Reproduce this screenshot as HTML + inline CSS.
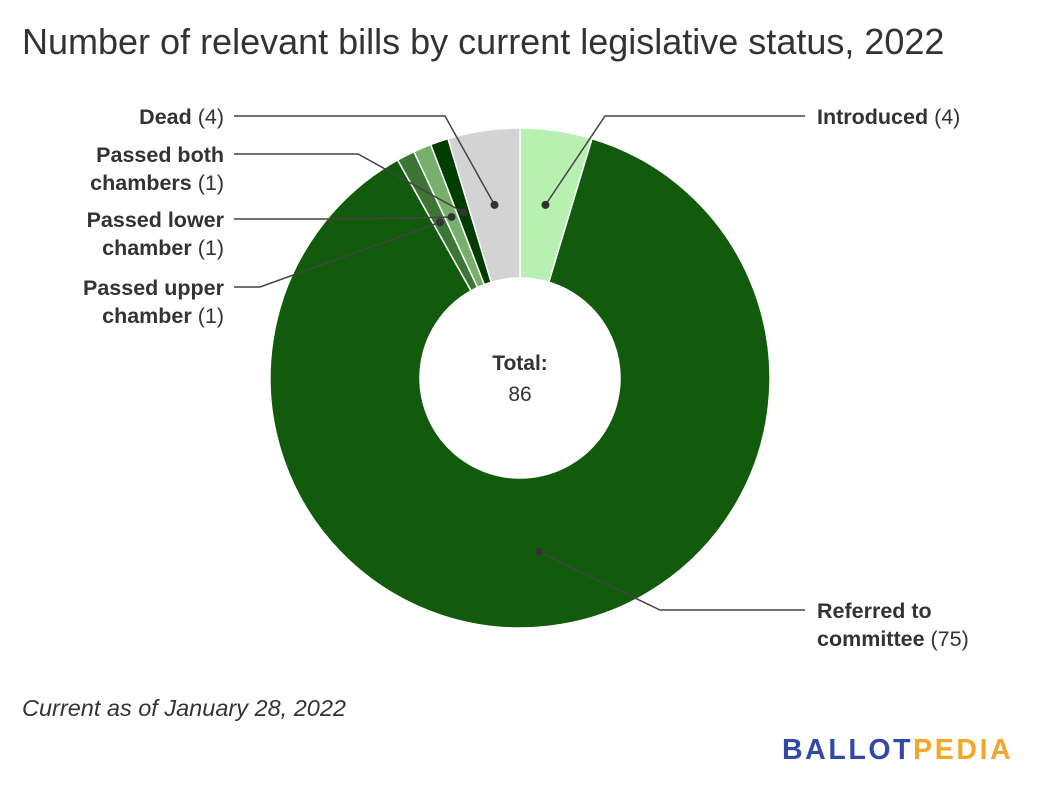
<!DOCTYPE html>
<html><head><meta charset="utf-8"><style>
body{margin:0;background:#fff;font-family:"Liberation Sans",Arial,sans-serif;}
#wrap{position:relative;width:1040px;height:794px;overflow:hidden;}
</style></head><body>
<div id="wrap">
<svg id="chart" width="1040" height="794">
<text x="22" y="54" font-size="36" fill="#333">Number of relevant bills by current legislative status, 2022</text>
<g id="slices"></g>
<g id="leaders"></g>
<text x="520" y="370" font-size="21" font-weight="bold" fill="#333" text-anchor="middle">Total:</text>
<text x="520" y="401" font-size="21" fill="#333" text-anchor="middle">86</text>
<text x="22" y="716" font-size="23.5" font-style="italic" fill="#333">Current as of January 28, 2022</text>
<text x="782" y="759" font-size="28.5" font-weight="bold" letter-spacing="2.6"><tspan fill="#3349a8">BALLOT</tspan><tspan fill="#f4a62a">PEDIA</tspan></text>
</svg>
</div>
<script>
const categories=["Introduced","Referred to committee","Passed upper chamber","Passed lower chamber","Passed both chambers","Dead"];
const values=[4,75,1,1,1,4];
const colors=["#b7f0b1","#125a0c","#3c7534","#77b06c","#003d00","#d3d3d3"];
const labelLines=[["Introduced"],["Referred to","committee"],["Passed upper","chamber"],["Passed lower","chamber"],["Passed both","chambers"],["Dead"]];
const cx=520,cy=378,R=250,r=100,NS="http://www.w3.org/2000/svg";
const total=values.reduce((a,b)=>a+b,0);
const sl=document.getElementById('slices'),ld=document.getElementById('leaders');
const labelPos=[{x:817,y:116,lx:805,ex:605,side:'r'},{x:817,y:610,lx:805,ex:660,side:'r'},{x:224,y:287,lx:234,ex:260,side:'l'},{x:224,y:219,lx:234,ex:358,side:'l'},{x:224,y:154,lx:234,ex:358,side:'l'},{x:224,y:116,lx:234,ex:445,side:'l'}];
function pt(a,rad){return [cx+rad*Math.sin(a),cy-rad*Math.cos(a)];}
let acc=0;
values.forEach((v,i)=>{
 const a0=acc/total*2*Math.PI,a1=(acc+v)/total*2*Math.PI;acc+=v;
 const lg=(a1-a0)>Math.PI?1:0;
 const p0=pt(a0,R),p1=pt(a1,R),q1=pt(a1,r),q0=pt(a0,r);
 const p=document.createElementNS(NS,'path');
 p.setAttribute('d',`M${p0}A${R},${R} 0 ${lg} 1 ${p1}L${q1}A${r},${r} 0 ${lg} 0 ${q0}Z`);
 p.setAttribute('fill',colors[i]);p.setAttribute('stroke','#fff');p.setAttribute('stroke-width','1.5');
 
 
 sl.appendChild(p);
 const am=(a0+a1)/2,d=pt(am,175),L=labelPos[i];
 const ln=document.createElementNS(NS,'polyline');
 ln.setAttribute('points',`${L.lx},${L.y} ${L.ex},${L.y} ${d[0]},${d[1]}`);
 ln.setAttribute('fill','none');ln.setAttribute('stroke','#444');ln.setAttribute('stroke-width','1.5');
 
 
 ld.appendChild(ln);
 const c=document.createElementNS(NS,'circle');
 c.setAttribute('cx',d[0]);c.setAttribute('cy',d[1]);c.setAttribute('r',4);c.setAttribute('fill','#333');
 
 
 ld.appendChild(c);
 const t=document.createElementNS(NS,'text');
 t.setAttribute('font-size','21.5');t.setAttribute('fill','#333');
 t.setAttribute('text-anchor',L.side==='r'?'start':'end');
 
 
 const lines=labelLines[i];
 lines.forEach((s,j)=>{
  const ts=document.createElementNS(NS,'tspan');
  ts.setAttribute('x',L.x);ts.setAttribute('y',L.y+8+j*28);
  const b=document.createElementNS(NS,'tspan');b.setAttribute('font-weight','bold');b.textContent=s;ts.appendChild(b);
  if(j===lines.length-1){ts.appendChild(document.createTextNode(' ('+v+')'));}
  t.appendChild(ts);
 });
 ld.appendChild(t);
});
</script>
</body></html>
